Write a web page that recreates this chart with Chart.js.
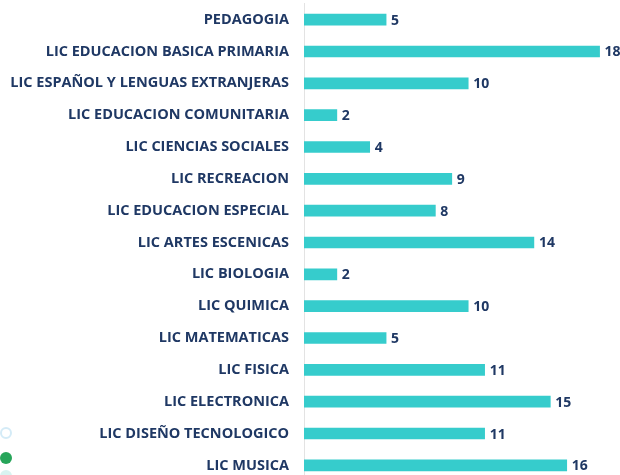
<!DOCTYPE html>
<html>
<head>
<meta charset="utf-8">
<script src="https://cdn.jsdelivr.net/npm/chart.js@4"></script>
<style>
  html, body { margin: 0; padding: 0; background: #fff; overflow: hidden; }
  #wrap { position: relative; width: 620px; height: 475px; overflow: hidden; }
  canvas { display: block; margin-top: -20px; }
  .dot { position: absolute; width: 12px; height: 12px; border-radius: 50%; box-sizing: border-box; }
</style>
</head>
<body>
<div id="wrap">
  <canvas id="barChart" width="620" height="525"></canvas>
  <div class="dot" style="left:0px;top:427px;border:2px solid #d4ebf7;"></div>
  <div class="dot" style="left:0px;top:452px;background:#27a55a;"></div>
  <div class="dot" style="left:0px;top:470px;background:#d8f3f0;"></div>
</div>
<script>
const programas = [
  'PEDAGOGIA',
  'LIC EDUCACION BASICA PRIMARIA',
  'LIC ESPAÑOL Y LENGUAS EXTRANJERAS',
  'LIC EDUCACION COMUNITARIA',
  'LIC CIENCIAS SOCIALES',
  'LIC RECREACION',
  'LIC EDUCACION ESPECIAL',
  'LIC ARTES ESCENICAS',
  'LIC BIOLOGIA',
  'LIC QUIMICA',
  'LIC MATEMATICAS',
  'LIC FISICA',
  'LIC ELECTRONICA',
  'LIC DISEÑO TECNOLOGICO',
  'LIC MUSICA'
];
const cantidades = [5, 18, 10, 2, 4, 9, 8, 14, 2, 10, 5, 11, 15, 11, 16];

const navy = '#1f3864';
const fontFamily = '"Open Sans", Lato, sans-serif';

// etiquetas de valor al final de cada barra
const valueLabels = {
  id: 'valueLabels',
  afterDatasetsDraw(chart) {
    const ctx = chart.ctx;
    const meta = chart.getDatasetMeta(0);
    ctx.save();
    ctx.fillStyle = navy;
    ctx.font = 'bold 14px ' + fontFamily;
    ctx.textAlign = 'left';
    ctx.textBaseline = 'middle';
    meta.data.forEach((bar, i) => {
      ctx.fillText(cantidades[i], bar.x + 5, bar.y + 1);
    });
    ctx.restore();
  }
};

const ctx = document.getElementById('barChart').getContext('2d');
const chart = new Chart(ctx, {
  type: 'bar',
  data: {
    labels: programas,
    datasets: [{
      data: cantidades,
      backgroundColor: '#36cccc',
      barThickness: 11
    }]
  },
  options: {
    indexAxis: 'y',
    responsive: false,
    animation: false,
    layout: { padding: { top: 2, bottom: 4, right: 4, left: 0 } },
    plugins: {
      legend: { display: false },
      tooltip: { enabled: false }
    },
    scales: {
      x: {
        min: 0,
        max: 19,
        display: false
      },
      y: {
        grid: { display: false, drawTicks: false },
        border: { display: true, color: '#e3e3e3', width: 1 },
        ticks: {
          color: navy,
          padding: 15,
          font: { family: fontFamily, size: 14.5, weight: 'bold' }
        },
        afterFit(scale) { scale.width = 304; }
      }
    }
  },
  plugins: [valueLabels]
});
</script>
</body>
</html>
